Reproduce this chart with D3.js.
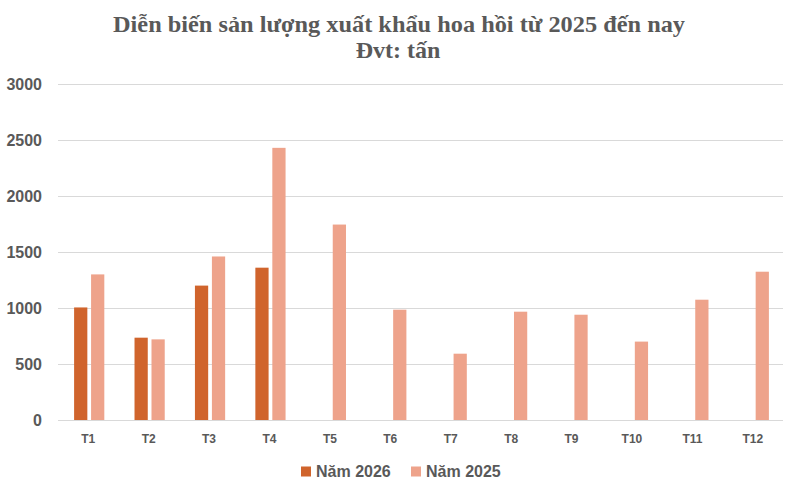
<!DOCTYPE html>
<html>
<head>
<meta charset="utf-8">
<script src="https://cdn.jsdelivr.net/npm/d3@7"></script>
<style>
  body { margin: 0; background: #fff; }
  svg { display: block; }
</style>
</head>
<body>
<svg></svg>
<script>
let months = ['T1', 'T2', 'T3', 'T4', 'T5', 'T6', 'T7', 'T8', 'T9', 'T10', 'T11', 'T12']
let seriesNames = ['Năm 2026', 'Năm 2025']
let values2026 = [1005, 735, 1200, 1360, null, null, null, null, null, null, null, null]
let values2025 = [1300, 720, 1460, 2430, 1745, 985, 592, 967, 940, 700, 1074, 1324]
let yTicks = [0, 500, 1000, 1500, 2000, 2500, 3000]
let titleLines = ['Diễn biến sản lượng xuất khẩu hoa hồi từ 2025 đến nay', 'Đvt: tấn']

let colors = ['#D0642C', '#EEA38B']
let textColor = '#595959'

let width = 797
let height = 491
let plotLeft = 58
let plotRight = 783
let plotTop = 84
let plotBottom = 420

let svg = d3.select('svg')
    .attr('width', width)
    .attr('height', height)

let xScale = d3.scaleBand()
    .domain(months)
    .range([plotLeft, plotRight])
    .paddingInner(0.5)
    .paddingOuter(0.25)

let innerScale = d3.scaleBand()
    .domain(seriesNames)
    .range([0, xScale.bandwidth()])
    .paddingInner(0.22)

let yScale = d3.scaleLinear()
    .domain([0, 3000])
    .range([plotBottom, plotTop])

// title
svg.append('text')
    .attr('x', 399)
    .attr('y', 31.5)
    .attr('text-anchor', 'middle')
    .attr('textLength', 572)
    .attr('lengthAdjust', 'spacingAndGlyphs')
    .style('font-family', '"Liberation Serif", "Times New Roman", serif')
    .style('font-weight', 'bold')
    .style('font-size', '24px')
    .style('fill', textColor)
    .text(titleLines[0])

svg.append('text')
    .attr('x', 398)
    .attr('y', 58.3)
    .attr('text-anchor', 'middle')
    .style('font-family', '"Liberation Serif", "Times New Roman", serif')
    .style('font-weight', 'bold')
    .style('font-size', '24px')
    .style('fill', textColor)
    .text(titleLines[1])

// y axis + gridlines
let yAxis = d3.axisLeft(yScale)
    .tickValues(yTicks)
    .tickSize(-(plotRight - plotLeft))
    .tickPadding(16)
    .tickFormat(d3.format('d'))

let yAxisG = svg.append('g')
    .attr('transform', 'translate(' + plotLeft + ', 0)')
    .call(yAxis)

yAxisG.select('.domain').remove()
yAxisG.selectAll('line')
    .attr('stroke', '#d9d9d9')
    .attr('stroke-width', 1)
yAxisG.selectAll('text')
    .style('font-family', '"Liberation Sans", Arial, sans-serif')
    .style('font-weight', 'bold')
    .style('font-size', '16px')
    .style('fill', textColor)

// x axis labels
let xAxis = d3.axisBottom(xScale)
    .tickSize(0)
    .tickPadding(14)

let xAxisG = svg.append('g')
    .attr('transform', 'translate(0, ' + plotBottom + ')')
    .call(xAxis)

xAxisG.select('.domain').remove()
xAxisG.selectAll('text')
    .style('font-family', '"Liberation Sans", Arial, sans-serif')
    .style('font-weight', 'bold')
    .style('font-size', '12px')
    .style('fill', textColor)

// bars
let rows = months.map((m, i) => {
    return { month: m, vals: [values2026[i], values2025[i]] }
})

let groups = svg.selectAll('.group')
    .data(rows)
    .enter()
    .append('g')
    .attr('class', 'group')
    .attr('transform', (d) => 'translate(' + (xScale(d.month) + 1) + ', 0)')

groups.selectAll('rect')
    .data((d) => d.vals.map((v, k) => ({ name: seriesNames[k], value: v, k: k })).filter((e) => e.value != null))
    .enter()
    .append('rect')
    .attr('x', (d) => innerScale(d.name))
    .attr('width', innerScale.bandwidth())
    .attr('y', (d) => yScale(d.value))
    .attr('height', (d) => plotBottom - yScale(d.value))
    .attr('fill', (d) => colors[d.k])

// legend
let legendX = [301, 411]
let legend = svg.selectAll('.legend')
    .data(seriesNames)
    .enter()
    .append('g')
    .attr('class', 'legend')
    .attr('transform', (d, i) => 'translate(' + legendX[i] + ', 466.5)')

legend.append('rect')
    .attr('width', 10)
    .attr('height', 10)
    .attr('fill', (d, i) => colors[i])

legend.append('text')
    .attr('x', 15)
    .attr('y', 10.2)
    .style('font-family', '"Liberation Sans", Arial, sans-serif')
    .style('font-weight', 'bold')
    .style('font-size', '16px')
    .style('fill', textColor)
    .text((d) => d)
</script>
</body>
</html>
